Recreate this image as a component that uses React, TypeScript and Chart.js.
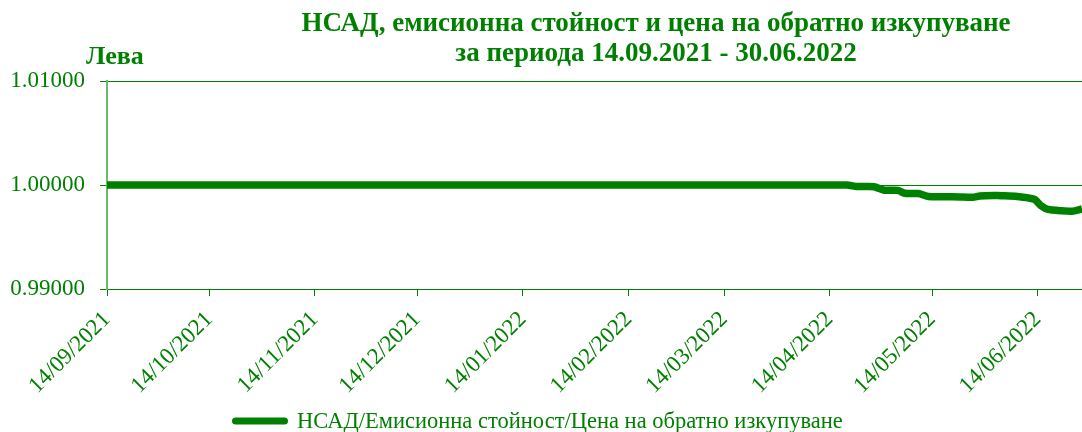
import React, { useEffect, useRef } from "react";
import { Chart, registerables } from "chart.js";

Chart.register(...registerables);

// ---- data ----
const startDate = "2021-09-14";
const endDate = "2022-06-27";
const pointDates = [
  "2021-09-14", "2022-04-19", "2022-04-22", "2022-04-27", "2022-04-30",
  "2022-05-04", "2022-05-06", "2022-05-10", "2022-05-13", "2022-05-18",
  "2022-05-22", "2022-05-26", "2022-05-28", "2022-06-01", "2022-06-03",
  "2022-06-08", "2022-06-13", "2022-06-15", "2022-06-17", "2022-06-21",
  "2022-06-24", "2022-06-27",
];
const navValues = [
  1.0, 1.0, 0.99985, 0.99984, 0.9995,
  0.99948, 0.9992, 0.99918, 0.9989, 0.99888,
  0.99885, 0.99882, 0.99895, 0.999, 0.99897,
  0.9989, 0.99862, 0.998, 0.99765, 0.99752,
  0.99748, 0.9977,
];
const tickDates = [
  "2021-09-14", "2021-10-14", "2021-11-14", "2021-12-14", "2022-01-14",
  "2022-02-14", "2022-03-14", "2022-04-14", "2022-05-14", "2022-06-14",
];
const yMin = 0.99;
const yMax = 1.01;
const yStep = 0.01;
const titleLines = [
  "НСАД, емисионна стойност и цена на обратно изкупуване",
  "за периода 14.09.2021 - 30.06.2022",
];
const yUnit = "Лева";
const seriesLabel = "НСАД/Емисионна стойност/Цена на обратно изкупуване";

const GREEN = "#008000";
const SERIF = '"Liberation Serif", "Times New Roman", serif';

const toUTC = (s: string) => {
  const [y, m, d] = s.split("-").map(Number);
  return Date.UTC(y, m - 1, d);
};
const dayIndex = (s: string) => Math.round((toUTC(s) - toUTC(startDate)) / 86400000);
const dayLabel = (idx: number) => {
  const dt = new Date(toUTC(startDate) + idx * 86400000);
  const dd = String(dt.getUTCDate()).padStart(2, "0");
  const mm = String(dt.getUTCMonth() + 1).padStart(2, "0");
  return `${dd}/${mm}/${dt.getUTCFullYear()}`;
};

const decorPlugin = {
  id: "decor",
  afterDraw(chart: any) {
    const ctx = chart.ctx;
    ctx.save();
    ctx.fillStyle = GREEN;
    ctx.textBaseline = "alphabetic";
    ctx.textAlign = "center";
    ctx.font = `bold 27px ${SERIF}`;
    ctx.fillText(titleLines[0], 656, 31);
    ctx.fillText(titleLines[1], 656, 61);
    ctx.textAlign = "left";
    ctx.font = `bold 26px ${SERIF}`;
    ctx.fillText(yUnit, 86, 64);
    // legend
    ctx.strokeStyle = GREEN;
    ctx.lineWidth = 7;
    ctx.lineCap = "round";
    ctx.beginPath();
    ctx.moveTo(235.5, 421);
    ctx.lineTo(284.5, 421);
    ctx.stroke();
    ctx.font = `22.5px ${SERIF}`;
    ctx.fillText(seriesLabel, 297, 428);
    ctx.restore();
  },
};

export default function App() {
  const ref = useRef<HTMLCanvasElement>(null);
  useEffect(() => {
    if (!ref.current) return;
    const data = pointDates.map((d, i) => ({ x: dayIndex(d), y: navValues[i] }));
    const tickDays = tickDates.map(dayIndex);
    const chart = new Chart(ref.current, {
      type: "line",
      data: {
        datasets: [
          {
            label: seriesLabel,
            data,
            borderColor: GREEN,
            backgroundColor: GREEN,
            borderWidth: 7.5,
            pointRadius: 0,
            tension: 0.2,
            borderJoinStyle: "round",
            borderCapStyle: "butt",
          },
        ],
      },
      options: {
        animation: false,
        responsive: false,
        maintainAspectRatio: false,
        layout: { padding: { top: 81, left: 0, right: 0, bottom: 0 } },
        plugins: {
          legend: { display: false },
          title: { display: false },
          tooltip: { enabled: false },
        },
        scales: {
          x: {
            type: "linear",
            min: 0,
            max: dayIndex(endDate),
            afterBuildTicks: (scale: any) => {
              scale.ticks = tickDays.map((v) => ({ value: v }));
            },
            afterFit: (scale: any) => {
              scale.height = 143;
              scale.paddingRight = 0;
            },
            grid: {
              drawOnChartArea: false,
              drawTicks: true,
              tickLength: 7,
              color: GREEN,
            },
            border: { display: true, color: GREEN, width: 1 },
            ticks: {
              autoSkip: false,
              minRotation: 45,
              maxRotation: 45,
              padding: 10,
              color: GREEN,
              font: { family: SERIF, size: 23 },
              callback: (v: any) => dayLabel(Number(v)),
            },
          },
          y: {
            min: yMin,
            max: yMax,
            afterFit: (scale: any) => {
              scale.width = 107;
            },
            grid: {
              drawOnChartArea: true,
              drawTicks: true,
              tickLength: 7,
              color: GREEN,
            },
            border: { display: true, color: "#6cb86c", width: 2 },
            ticks: {
              stepSize: yStep,
              padding: 15,
              color: GREEN,
              font: { family: SERIF, size: 23 },
              callback: (v: any) => Number(v).toFixed(5),
            },
          },
        },
      },
      plugins: [decorPlugin],
    } as any);
    return () => chart.destroy();
  }, []);
  return (
    <div style={{ position: "fixed", left: 0, top: 0, width: 1082, height: 432, background: "#fff" }}>
      <canvas ref={ref} width={1082} height={432} />
    </div>
  );
}
